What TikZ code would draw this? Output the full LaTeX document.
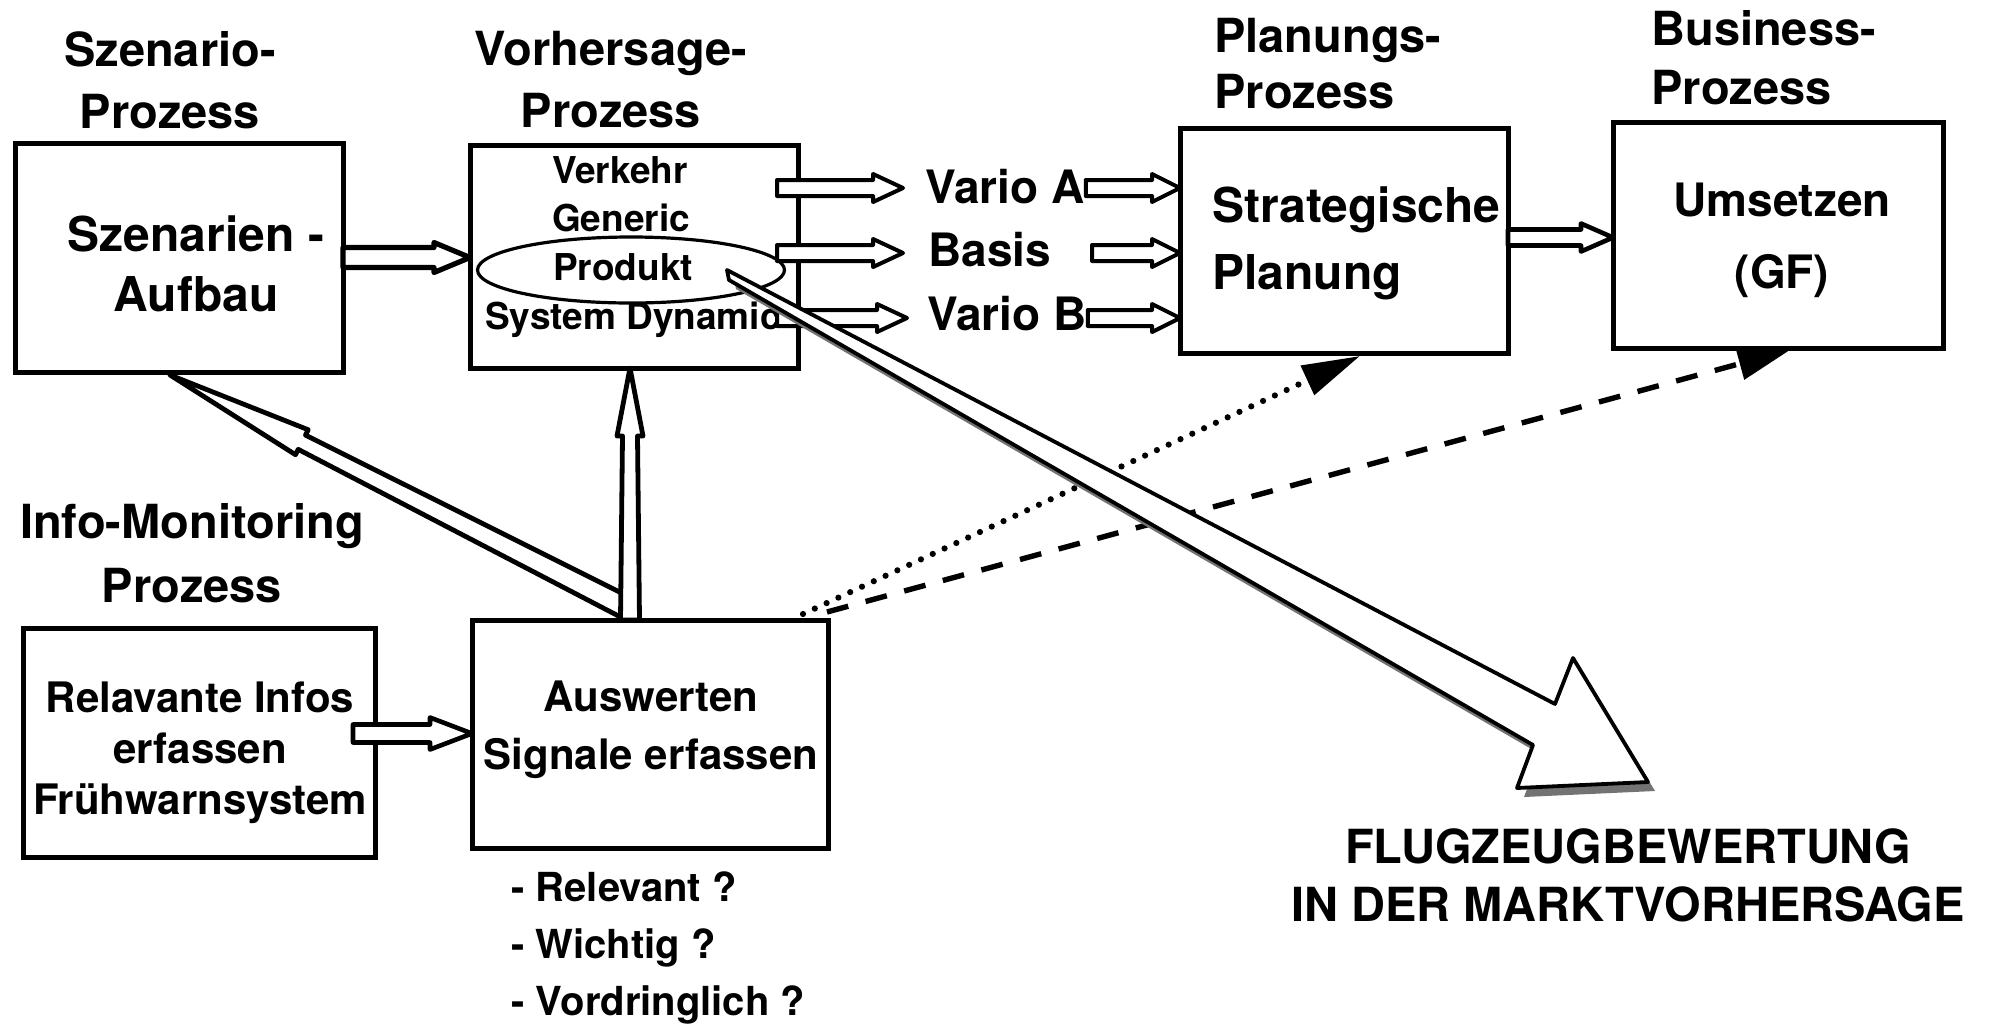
\documentclass[tikz,border=0pt]{standalone}
\usepackage{fontspec}
\setmainfont{TeX Gyre Heros}
\usetikzlibrary{calc,arrows.meta,shapes.geometric}

% hollow block arrow: [style]{from}{to}{start half width}{end half width}{head half width}{head length}  (pt)
\newcommand\harrow[7][]{%
  \pgfmathsetmacro\haJd{sqrt((#7)*(#7)+(#5)*(#5))}%
  \pgfmathsetmacro\haJa{atan2(#5,#7)}%
  \pgfmathsetmacro\haKd{sqrt((#7)*(#7)+(#6)*(#6))}%
  \pgfmathsetmacro\haKa{atan2(#6,#7)}%
  \draw[hollow,#1] ($(#2)!#4pt!90:(#3)$) -- ($(#3)!\haJd pt!-\haJa:(#2)$)
     -- ($(#3)!\haKd pt!-\haKa:(#2)$) -- (#3) -- ($(#3)!\haKd pt!\haKa:(#2)$)
     -- ($(#3)!\haJd pt!\haJa:(#2)$) -- ($(#2)!#4pt!-90:(#3)$) -- cycle;%
}

\tikzset{
  box/.style={draw, line width=2.5pt, inner sep=0pt, outer sep=0pt},
  hollow/.style={draw, fill=white, line width=2pt, line join=round},
  hd/.style={font=\fontsize{23.5}{31}\selectfont\bfseries, align=center, inner sep=0pt},
  vt/.style={font=\fontsize{18.5}{22}\selectfont\bfseries, inner sep=0pt},
  vario/.style={font=\fontsize{23}{28}\selectfont\bfseries, inner sep=0pt, anchor=west},
  dotline/.style={line width=3.1pt, line cap=round, dash pattern=on 0pt off 6.5pt},
  dashline/.style={line width=2.7pt, dash pattern=on 11pt off 9pt},
}

\begin{document}
\begin{tikzpicture}[x=0.5pt,y=-0.5pt]
\useasboundingbox (0,0) rectangle (2004,1024);
\fill[white] (0,0) rectangle (2004,1024);

% boxes
\node[box, minimum width=164pt, minimum height=114.5pt] (szen) at (179,257.5) {};
\node[box, minimum width=164pt, minimum height=111.5pt] (vorh) at (634,256.5) {};
\node[box, minimum width=164pt, minimum height=112.5pt] (strat) at (1344,240.5) {};
\node[box, minimum width=165pt, minimum height=113pt] (ums) at (1778,235) {};
\node[box, minimum width=176pt, minimum height=114.5pt] (rel) at (199,742.5) {};
\node[box, minimum width=178pt, minimum height=114pt] (ausw) at (650,734) {};
\node[draw, ellipse, line width=1.6pt, minimum width=153.5pt, minimum height=33pt, inner sep=0pt] (prodell) at (631,270) {};

% headings
\node[hd] (hSzen) at (170,80) {Szenario-\\Prozess};
\node[hd] (hVorh) at (611,80) {Vorhersage-\\Prozess};
\node[hd, align=left, anchor=west, font=\fontsize{23.5}{28}\selectfont\bfseries] (hPlan) at (1214,64) {Planungs-\\Prozess};
\node[hd, align=left, anchor=west, font=\fontsize{23.5}{29.5}\selectfont\bfseries] (hBus) at (1651,57.5) {Business-\\Prozess};
\node[hd, font=\fontsize{23.5}{32}\selectfont\bfseries] (hInfo) at (192,553) {Info-Monitoring\\Prozess};

% box texts
\node[hd, font=\fontsize{24}{30}\selectfont\bfseries] (tSzen) at (196,264) {Szenarien -\\Aufbau};
\node[vt] (vVerk) at (620,170) {Verkehr};
\node[vt] (vGen) at (621,218) {Generic};
\node[vt] (vProd) at (623,267) {Produkt};
\node[vt] (vSys) at (633,320) {System Dynamic};
\node[vario] (vA) at (925,187) {Vario A};
\node[vario] (vBas) at (928,250) {Basis};
\node[vario] (vB) at (927,314) {Vario B};
\node[hd, align=left, anchor=west, font=\fontsize{24}{33.5}\selectfont\bfseries] (tStrat) at (1212,243) {Strategische\\Planung};
\node[hd, font=\fontsize{23}{36}\selectfont\bfseries] (tUms) at (1782,240) {Umsetzen\\(GF)};
\node[hd, font=\fontsize{21}{25.5}\selectfont\bfseries] (tRel) at (200,753) {Relavante Infos\\erfassen\\Frühwarnsystem};
\node[hd, font=\fontsize{21}{29}\selectfont\bfseries] (tAusw) at (651,730) {Auswerten\\Signale erfassen};
\node[hd, align=left, anchor=west, font=\fontsize{20}{28.5}\selectfont\bfseries] (tList) at (511,948) {- Relevant ?\\- Wichtig ?\\- Vordringlich ?};
\node[hd, font=\fontsize{23.5}{29}\selectfont\bfseries] (tFlug) at (1628,875) {FLUGZEUGBEWERTUNG\\IN DER MARKTVORHERSAGE};

% dotted and dashed connectors
\coordinate (dot1) at ($(ausw.north east)+(-25,-6)$);
\coordinate (dot2) at ($(strat.south west)+(180,3)$);
\draw[dotline, -{Triangle[length=29pt,width=15.5pt]}] (dot1) -- (dot2);
\coordinate (das1) at ($(ausw.north east)+(-1,-8)$);
\coordinate (das2) at ($(ums.south west)+(177,2)$);
\draw[dashline, -{Triangle[length=26pt,width=16pt]}] (das1) -- (das2);

% Auswerten -> Szenarien (diagonal) and -> Vorhersage (vertical)
\coordinate (g1s) at ($(ausw.north)+(-23,-12)$);
\coordinate (g1e) at ($(szen.south west)+(155,3)$);
\harrow[line width=2.4pt]{g1s}{g1e}{5.5}{4}{7}{74}
\coordinate (f1s) at ($(ausw.north)+(-20,0)$);
\coordinate (f1e) at (f1s |- vorh.south);
\harrow[line width=2.4pt]{f1s}{f1e}{4.75}{3.75}{6.5}{34}

% Szenarien -> Vorhersage
\coordinate (a1s) at (szen.east);
\coordinate (a1e) at (vorh.west |- szen.east);
\harrow[line width=2.6pt]{a1s}{a1e}{5}{5}{7.5}{18}

% Vorhersage -> Varianten
\coordinate (b1s) at ($(vorh.east |- vA.west)+(-21,1)$);
\coordinate (b1e) at ($(vA.west)+(-22,1)$);
\harrow{b1s}{b1e}{4}{4}{7}{15}
\coordinate (b2s) at ($(vorh.east |- vBas.west)+(-21,3)$);
\coordinate (b2e) at ($(vBas.west)+(-25,3)$);
\harrow{b2s}{b2e}{4}{4}{7}{15}
\coordinate (b3s) at ($(vorh.east |- vB.west)+(-21,4)$);
\coordinate (b3e) at ($(vB.west)+(-20,4)$);
\harrow{b3s}{b3e}{4}{4}{7}{15}

% Varianten -> Strategische Planung
\coordinate (c1s) at ($(vA.east)+(1,1)$);
\coordinate (c1e) at (strat.west |- c1s);
\harrow{c1s}{c1e}{4}{4}{7}{14}
\coordinate (c2s) at ($(strat.west |- vBas.east)+(-88,3)$);
\coordinate (c2e) at (strat.west |- c2s);
\harrow{c2s}{c2e}{4}{4}{7}{14}
\coordinate (c3s) at ($(vB.east)+(1,4)$);
\coordinate (c3e) at (strat.west |- c3s);
\harrow{c3s}{c3e}{4}{4}{7}{14}

% Strategische Planung -> Umsetzen
\coordinate (d1s) at ($(strat.east)+(0,-3)$);
\coordinate (d1e) at (ums.west |- d1s);
\harrow[line width=2.3pt]{d1s}{d1e}{4}{4}{7}{16}

% Relavante Infos -> Auswerten
\coordinate (e1s) at ($(rel.east)+(-22,-9)$);
\coordinate (e1e) at (ausw.west |- e1s);
\harrow[line width=2.3pt]{e1s}{e1e}{4.5}{4.5}{8}{21}

% big arrow Produkt -> Flugzeugbewertung, with stippled shadow
\begin{scope}[shift={(7,9)}]
\fill[black!55] (727,270) -- (1555,704) -- (1573,658) -- (1648,782) -- (1517,788) -- (1533,745) -- (729,280) -- cycle;
\end{scope}
\draw[fill=white, line width=1.9pt, line join=round] (727,270) -- (1555,704) -- (1573,658) -- (1648,782) -- (1517,788) -- (1533,745) -- (729,280) -- cycle;
\end{tikzpicture}
\end{document}
